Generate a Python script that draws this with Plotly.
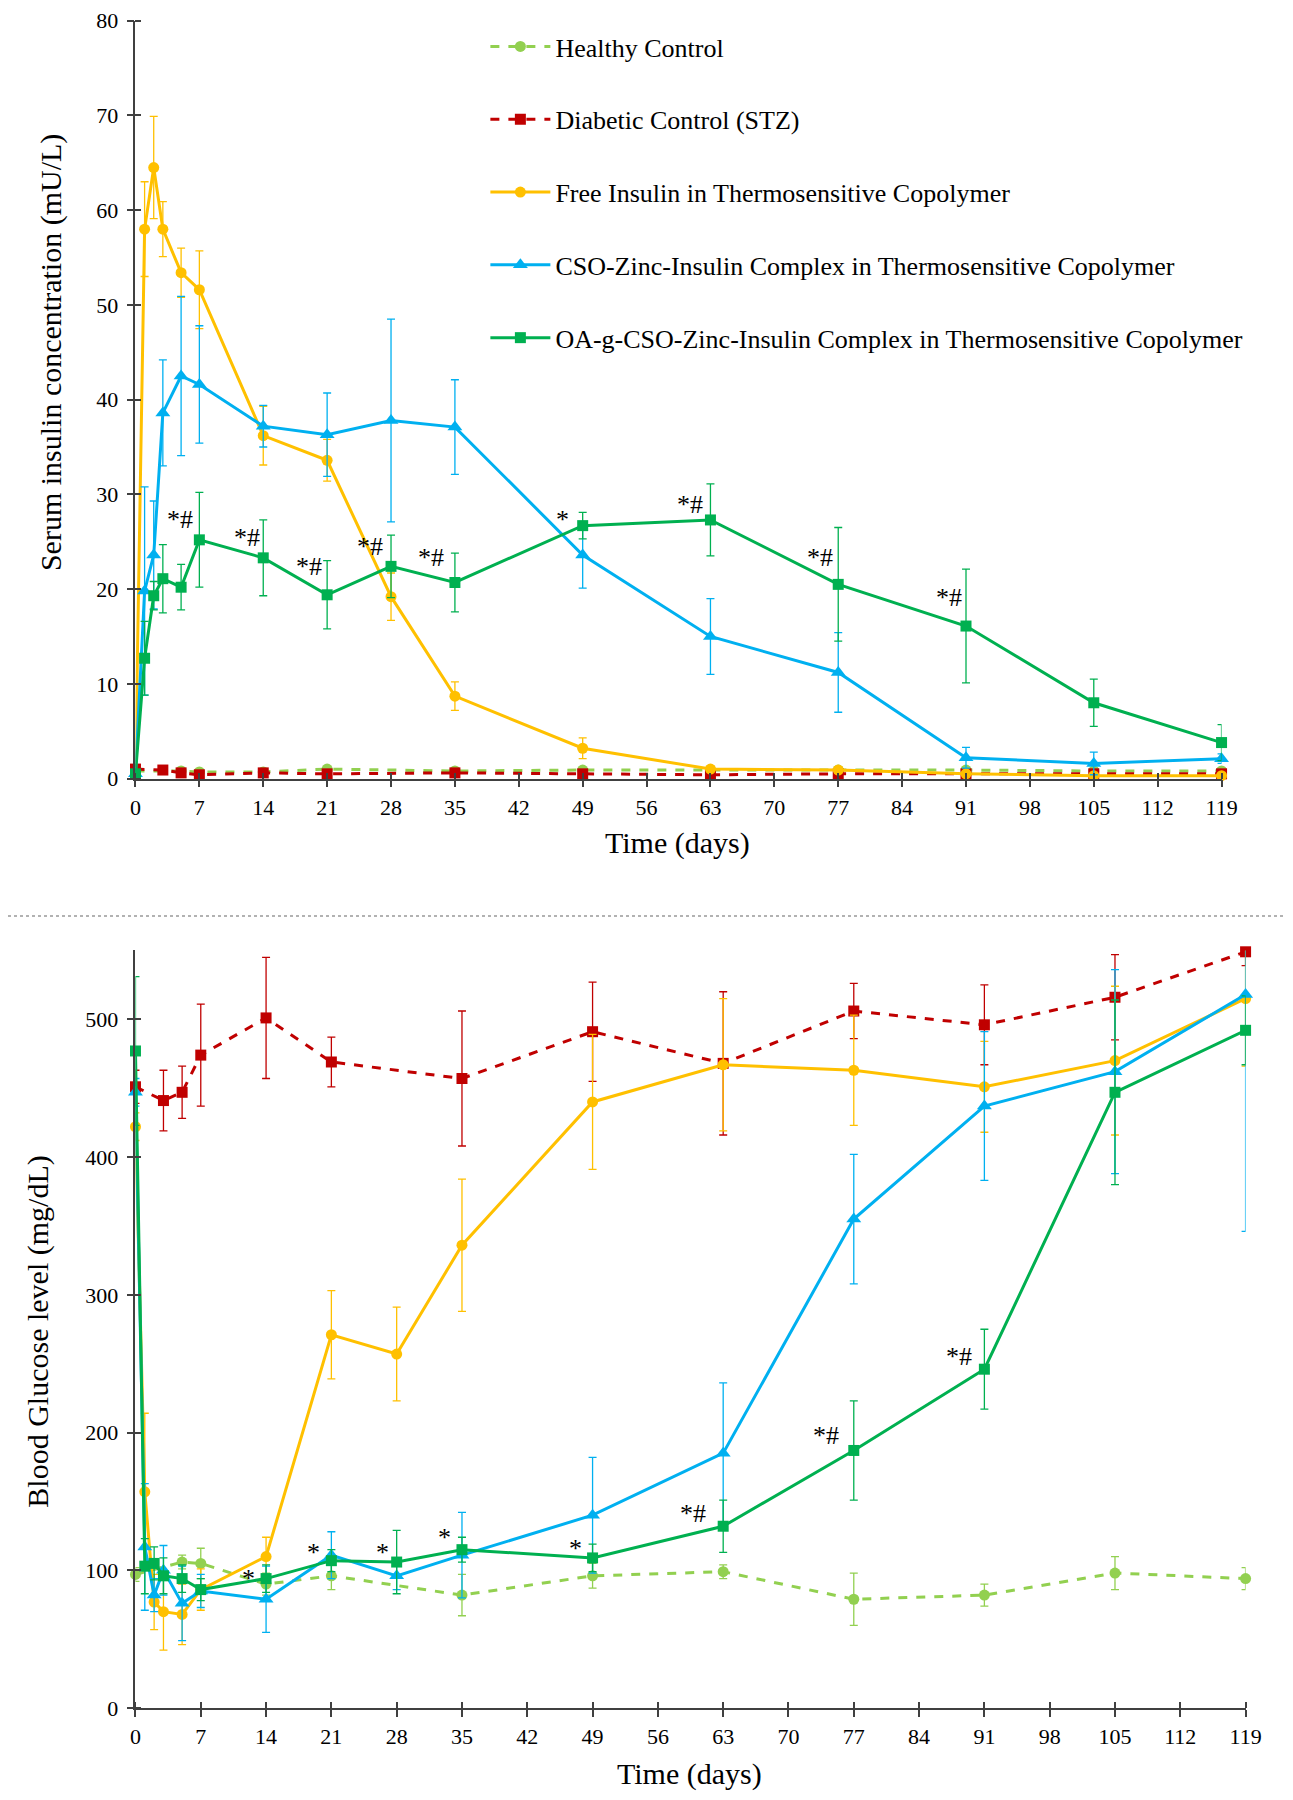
import plotly.graph_objects as go

# sampling days
days = [0, 1, 2, 3, 5, 7, 14, 21, 28, 35, 49, 63, 77, 91, 105, 119]
days_healthy = [0, 5, 7, 14, 21, 35, 49, 63, 77, 91, 105, 119]
days_diabetic = [0, 3, 5, 7, 14, 21, 35, 49, 63, 77, 91, 105, 119]
xticks = list(range(0, 120, 7))
yticks_top = list(range(0, 81, 10))
yticks_bot = list(range(0, 501, 100))

names = ["Healthy Control", "Diabetic Control (STZ)",
         "Free Insulin in Thermosensitive Copolymer",
         "CSO-Zinc-Insulin Complex in Thermosensitive Copolymer",
         "OA-g-CSO-Zinc-Insulin Complex in Thermosensitive Copolymer"]
colors = ["#92d050", "#c00000", "#ffc000", "#00b0f0", "#00b050"]
dashes = ["dash", "dash", "solid", "solid", "solid"]
symbols = ["circle", "square", "circle", "triangle-up", "square"]

# serum insulin (mU/L)
ins_healthy = [0.8, 0.8, 0.7, 0.7, 1.0, 0.8, 0.9, 0.9, 0.9, 0.9, 0.8, 0.8]
ins_healthy_sd = [0.2] * 12
ins_diabetic = [1.0, 0.9, 0.6, 0.4, 0.6, 0.5, 0.6, 0.5, 0.4, 0.5, 0.5, 0.5, 0.5]
ins_diabetic_sd = [0.2] * 13
ins_free = [0.5, 58.0, 64.5, 58.0, 53.4, 51.6, 36.2, 33.6, 19.2, 8.7, 3.2, 1.0, 0.9, 0.5, 0.3, 0.3]
ins_free_sd = [0.2, 5.0, 5.4, 2.9, 2.6, 4.1, 3.1, 2.2, 2.5, 1.5, 1.1, 0.3, 0.3, 0.2, 0.2, 0.2]
ins_cso = [0.5, 19.8, 23.6, 38.6, 42.5, 41.6, 37.2, 36.3, 37.8, 37.1, 23.6, 15.0, 11.2, 2.2, 1.6, 2.1]
ins_cso_sd = [0.2, 11.0, 5.7, 5.6, 8.4, 6.2, 2.2, 4.4, 10.7, 5.0, 3.5, 4.0, 4.2, 1.1, 1.2, 0.5]
ins_oa = [0.5, 12.7, 19.3, 21.1, 20.2, 25.2, 23.3, 19.4, 22.4, 20.7, 26.7, 27.3, 20.5, 16.1, 8.0, 3.8]
ins_oa_sd = [0.2, 3.9, 1.5, 3.6, 2.4, 5.0, 4.0, 3.6, 3.3, 3.1, 1.4, 3.8, 6.0, 6.0, 2.5, 1.9]

# blood glucose (mg/dL)
glu_healthy = [97, 106, 105, 90, 96, 82, 96, 99, 79, 82, 98, 94]
glu_healthy_sd = [5, 5, 11, 8, 10, 15, 9, 5, 19, 8, 12, 8]
glu_diabetic = [451, 441, 447, 474, 501, 469, 457, 491, 468, 506, 496, 516, 549]
glu_diabetic_sd = [12, 22, 19, 37, 44, 18, 49, 36, 52, 20, 29, 31, 10]
glu_free = [422, 157, 77, 70, 68, 86, 110, 271, 257, 336, 440, 467, 463, 451, 470, 515]
glu_free_sd = [10, 57, 20, 28, 22, 15, 14, 32, 34, 48, 49, 48, 40, 33, 54, 49]
glu_cso = [447, 117, 82, 100, 76, 85, 79, 111, 96, 111, 140, 185, 355, 437, 462, 518]
glu_cso_sd = [10, 46, 12, 18, 27, 12, 24, 17, 10, 31, 42, 51, 47, 54, 74, 172]
glu_oa = [477, 103, 105, 96, 94, 86, 94, 107, 106, 115, 109, 132, 187, 246, 447, 492]
glu_oa_sd = [54, 20, 12, 13, 10, 8, 10, 8, 23, 9, 10, 19, 36, 29, 67, 25]

# significance marks (day, value, text)
sig_top_x = [4.9, 12.2, 19.0, 25.7, 32.4, 46.8, 60.8, 75.0, 89.1]
sig_top_y = [27.4, 25.5, 22.4, 24.5, 23.3, 27.4, 28.9, 23.3, 19.1]
sig_top_txt = ["*#", "*#", "*#", "*#", "*#", "*", "*#", "*#", "*#"]
sig_bot_x = [12.1, 19.1, 26.5, 33.1, 47.2, 59.8, 74.0, 88.3]
sig_bot_y = [94, 113, 113, 124, 116, 141, 198, 255]
sig_bot_txt = ["*", "*", "*", "*", "*", "*#", "*#", "*#"]

FONT = "Liberation Serif"

top_sets = [(days_healthy, ins_healthy, ins_healthy_sd),
            (days_diabetic, ins_diabetic, ins_diabetic_sd),
            (days, ins_free, ins_free_sd),
            (days, ins_cso, ins_cso_sd),
            (days, ins_oa, ins_oa_sd)]
bot_sets = [(days_healthy, glu_healthy, glu_healthy_sd),
            (days_diabetic, glu_diabetic, glu_diabetic_sd),
            (days, glu_free, glu_free_sd),
            (days, glu_cso, glu_cso_sd),
            (days, glu_oa, glu_oa_sd)]

fig = go.Figure()

for sets, xa, ya, leg in [(top_sets, "x", "y", True), (bot_sets, "x2", "y2", False)]:
    for i, (x, y, sd) in enumerate(sets):
        fig.add_trace(go.Scatter(
            x=x, y=y, name=names[i], mode="lines+markers",
            line=dict(color=colors[i], width=3, dash=dashes[i]),
            marker=dict(color=colors[i], size=11 if symbols[i] != "triangle-up" else 13,
                        symbol=symbols[i]),
            error_y=dict(type="data", array=sd, color=colors[i], thickness=1.3, width=4),
            xaxis=xa, yaxis=ya, showlegend=leg, legendgroup=names[i],
            cliponaxis=False))

axis_style = dict(showline=True, linecolor="#404040", linewidth=1.5, ticks="outside",
                  ticklen=7, tickwidth=1.5, tickcolor="#404040", showgrid=False,
                  zeroline=False, tickfont=dict(family=FONT, size=22, color="black"))


def cross_ticks(vals):
    # inner half of the crossing tick marks (Excel style)
    return dict(ticks="inside", ticklen=6, tickwidth=1.5, tickcolor="#404040",
                tickmode="array", tickvals=[v + 1e-3 for v in vals], showgrid=False)


annotations = []
for x, y, t in zip(sig_top_x, sig_top_y, sig_top_txt):
    annotations.append(dict(x=x, y=y, xref="x", yref="y", text=t, showarrow=False,
                            font=dict(family=FONT, size=26, color="black")))
for x, y, t in zip(sig_bot_x, sig_bot_y, sig_bot_txt):
    annotations.append(dict(x=x, y=y, xref="x2", yref="y2", text=t, showarrow=False,
                            font=dict(family=FONT, size=26, color="black")))

title_font = dict(family=FONT, size=30, color="black")
annotations += [
    dict(x=0.5214, y=0.5340, xref="paper", yref="paper", text="Time (days)",
         xanchor="center", yanchor="middle", showarrow=False, font=title_font),
    dict(x=0.5307, y=0.0147, xref="paper", yref="paper", text="Time (days)",
         xanchor="center", yanchor="middle", showarrow=False, font=title_font),
    dict(x=0.0340, y=0.8078, xref="paper", yref="paper", textangle=-90,
         xanchor="center", yanchor="middle",
         text="Serum insulin concentration (mU/L)", showarrow=False, font=title_font),
    dict(x=0.0233, y=0.2613, xref="paper", yref="paper", textangle=-90,
         xanchor="center", yanchor="middle",
         text="Blood Glucose level (mg/dL)", showarrow=False, font=title_font),
]

fig.update_layout(
    width=1285, height=1792, template=None,
    paper_bgcolor="white", plot_bgcolor="white",
    margin=dict(l=0, r=0, t=0, b=0),
    xaxis=dict(axis_style, domain=[0.0992, 0.9444], range=[0, 119], anchor="y",
               tickmode="array", tickvals=xticks, ticklabelstandoff=1,
               minor=cross_ticks(xticks)),
    yaxis=dict(axis_style, domain=[0.5700, 0.9929], range=[0, 80], anchor="x",
               tickmode="array", tickvals=yticks_top, ticklabelstandoff=4,
               minor=cross_ticks(yticks_top)),
    xaxis2=dict(axis_style, domain=[0.0992, 0.9631], range=[0, 119], anchor="y2",
                tickmode="array", tickvals=xticks, ticklabelstandoff=1,
                minor=cross_ticks(xticks)),
    yaxis2=dict(axis_style, domain=[0.0513, 0.4741], range=[0, 550], anchor="x2",
                tickmode="array", tickvals=yticks_bot, ticklabelstandoff=4,
                minor=cross_ticks(yticks_bot)),
    legend=dict(x=0.3715, y=0.9916, xanchor="left", yanchor="top",
                font=dict(family=FONT, size=26, color="black"),
                tracegroupgap=36, itemwidth=60, bgcolor="rgba(0,0,0,0)"),
    annotations=annotations,
    shapes=[dict(type="line", xref="paper", yref="paper", x0=0, x1=1,
                 y0=0.4933, y1=0.4933, line=dict(color="#999999", width=1.5, dash="dot"))],
)

fig.write_html("out.html")
